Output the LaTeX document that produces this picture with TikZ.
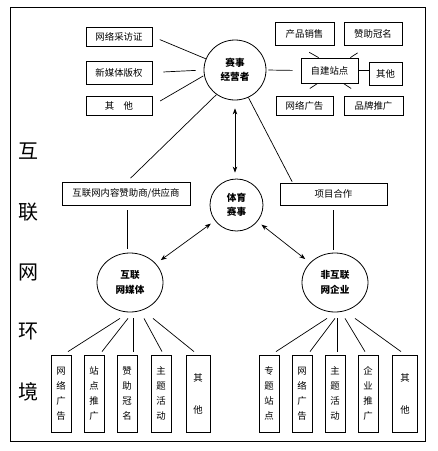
\documentclass[tikz,border=0pt]{standalone}
\usepackage{fontspec}
\setmainfont{Noto Sans CJK SC}
\usetikzlibrary{arrows.meta,shapes.geometric,calc}
\begin{document}
\begin{tikzpicture}[x=1pt,y=-1pt,
 box/.style={draw,line width=0.8pt,inner sep=0pt,font=\fontsize{9.4}{11}\selectfont},
 vbox/.style={draw,line width=0.8pt,inner sep=0pt,minimum width=20pt,minimum height=77pt,align=center,font=\fontsize{9.4}{15}\selectfont},
 oval/.style={draw,ellipse,line width=0.8pt,inner sep=0pt,align=center,font=\fontsize{9.6}{14.5}\selectfont\bfseries},
 ln/.style={line width=0.7pt},
 dbl/.style={line width=0.7pt,{Stealth[length=6pt,width=4.5pt]}-{Stealth[length=6pt,width=4.5pt]}},
 big/.style={font=\fontsize{20}{20}\selectfont}]
\useasboundingbox (0,0) rectangle (438,451);
\node[draw,line width=1pt,minimum width=415pt,minimum height=434pt,inner sep=0pt] (frame) at (217.5,224) {};
% big vertical label
\node[big] (h1) at (29,151) {互};
\node[big] (h2) at (29,212) {联};
\node[big] (h3) at (29,272) {网};
\node[big] (h4) at (29,332) {环};
\node[big] (h5) at (29,392) {境};
% top-left boxes
\node[box,minimum width=66pt,minimum height=19pt] (a1) at (119,36.5) {网络采访证};
\node[box,minimum width=66pt,minimum height=23pt] (a2) at (119,72.5) {新媒体版权};
\node[box,minimum width=66pt,minimum height=19pt] (a3) at (119,105.5) {其\quad 他};
% organiser
\node[oval,minimum width=62pt,minimum height=60pt] (op) at (235,70) {赛事\\经营者};
% right boxes
\node[box,minimum width=59pt,minimum height=23pt] (cp) at (304.5,33.5) {产品销售};
\node[box,minimum width=58pt,minimum height=23pt] (zz) at (373,33.5) {赞助冠名};
\node[box,minimum width=57pt,minimum height=25pt] (zj) at (329.5,70.5) {自建站点};
\node[box,minimum width=33pt,minimum height=23pt] (qt) at (385.5,73.5) {其他};
\node[box,minimum width=57pt,minimum height=19pt] (wl) at (304.5,105.5) {网络广告};
\node[box,minimum width=59pt,minimum height=19pt] (pp) at (373.5,105.5) {品牌推广};
% middle
\node[box,minimum width=128pt,minimum height=23pt] (sp) at (126,193.5) {互联网内容赞助商/供应商};
\node[box,minimum width=107pt,minimum height=22pt] (xm) at (333.5,194) {项目合作};
\node[oval,minimum width=53pt,minimum height=52pt] (ty) at (236.5,205) {体育\\赛事};
\node[oval,minimum width=66pt,minimum height=59pt] (mt) at (130,282.5) {互联\\网媒体};
\node[oval,minimum width=66pt,minimum height=59pt] (fq) at (335,282.5) {非互联\\网企业};
% bottom-left boxes
\node[vbox] (l1) at (61,393.5) {网\\络\\广\\告};
\node[vbox] (l2) at (94,393.5) {站\\点\\推\\广};
\node[vbox] (l3) at (127,393.5) {赞\\助\\冠\\名};
\node[vbox] (l4) at (161,393.5) {主\\题\\活\\动};
\node[vbox,minimum width=24pt] (l5) at (198,393.5) {其\\[17pt]他};
% bottom-right boxes
\node[vbox] (r1) at (269,393.5) {专\\题\\站\\点};
\node[vbox] (r2) at (302,393.5) {网\\络\\广\\告};
\node[vbox] (r3) at (335,393.5) {主\\题\\活\\动};
\node[vbox] (r4) at (368,393.5) {企\\业\\推\\广};
\node[vbox,minimum width=25pt] (r5) at (405,393.5) {其\\[17pt]他};
% connectors top-left
\draw[ln,shorten <=8pt] (a1.east) -- (op.159);
\draw[ln,shorten <=11pt,shorten >=8pt] (a2.east) -- (op.west);
\draw[ln,shorten <=9pt,shorten >=1pt] (a3.east) -- (op.190);
% connectors right
\draw[ln,shorten <=2pt,shorten >=8pt] (op.east) -- (zj.west);
\draw[ln] (zj.east) -- (zj.east -| qt.west);
\draw[ln,shorten >=14pt] ($(zj.north west)+(18,0)$) -- ($(cp.south)+(-7.5,0)$);
\draw[ln,shorten >=13.6pt] ($(zj.north east)+(-8,0)$) -- ($(zz.south)+(-4,0)$);
\draw[ln,shorten >=13pt] ($(zj.south west)+(17,0)$) -- ($(wl.north)+(-5.5,0)$);
\draw[ln,shorten >=13pt] ($(zj.south east)+(-15,0)$) -- ($(pp.north)+(-11.5,0)$);
% middle connectors
\draw[ln,shorten >=5pt] (op.233) -- ($(sp.north)+(1,0)$);
\draw[ln,shorten >=1pt] (op.296) -- ($(xm.north west)+(13,0)$);
\path ($(sp.south)+(1,0)$) coordinate (s1);
\draw[ln,shorten <=5pt,shorten >=4pt] (s1) -- (s1 |- mt.north);
\draw[ln,shorten <=5pt,shorten >=3pt] (xm.south) -- (xm.south |- fq.north);
\draw[dbl,shorten <=8pt,shorten >=6pt] (op.south) -- (op.south |- ty.north);
\draw[dbl,shorten <=6pt,shorten >=5pt] (mt) -- (ty);
\draw[dbl,shorten <=5pt,shorten >=6pt] (ty) -- (fq);
% bottom connectors
\draw[ln] ($(mt.south)+(-10,6)$) -- ($(l1.north)+(7,-3)$);
\draw[ln] ($(mt.south)+(-2,6)$) -- ($(l2.north)+(8,-3)$);
\draw[ln] ($(mt.south)+(3,6)$) -- ($(l3.north)+(6,-3)$);
\draw[ln] ($(mt.south)+(14,6)$) -- ($(l4.north)+(1,-3)$);
\draw[ln] ($(mt.south)+(23,6)$) -- ($(l5.north)+(-4,-3)$);
\draw[ln] ($(fq.south)+(-8,6)$) -- ($(r1.north)+(7,-3)$);
\draw[ln] ($(fq.south)+(0,6)$) -- ($(r2.north)+(8,-3)$);
\draw[ln] ($(fq.south)+(2,6)$) -- ($(r3.north)+(2,-3)$);
\draw[ln] ($(fq.south)+(10,6)$) -- ($(r4.north)+(-3,-3)$);
\draw[ln] ($(fq.south)+(20,6)$) -- ($(r5.north)+(-4,-3)$);
\end{tikzpicture}
\end{document}
